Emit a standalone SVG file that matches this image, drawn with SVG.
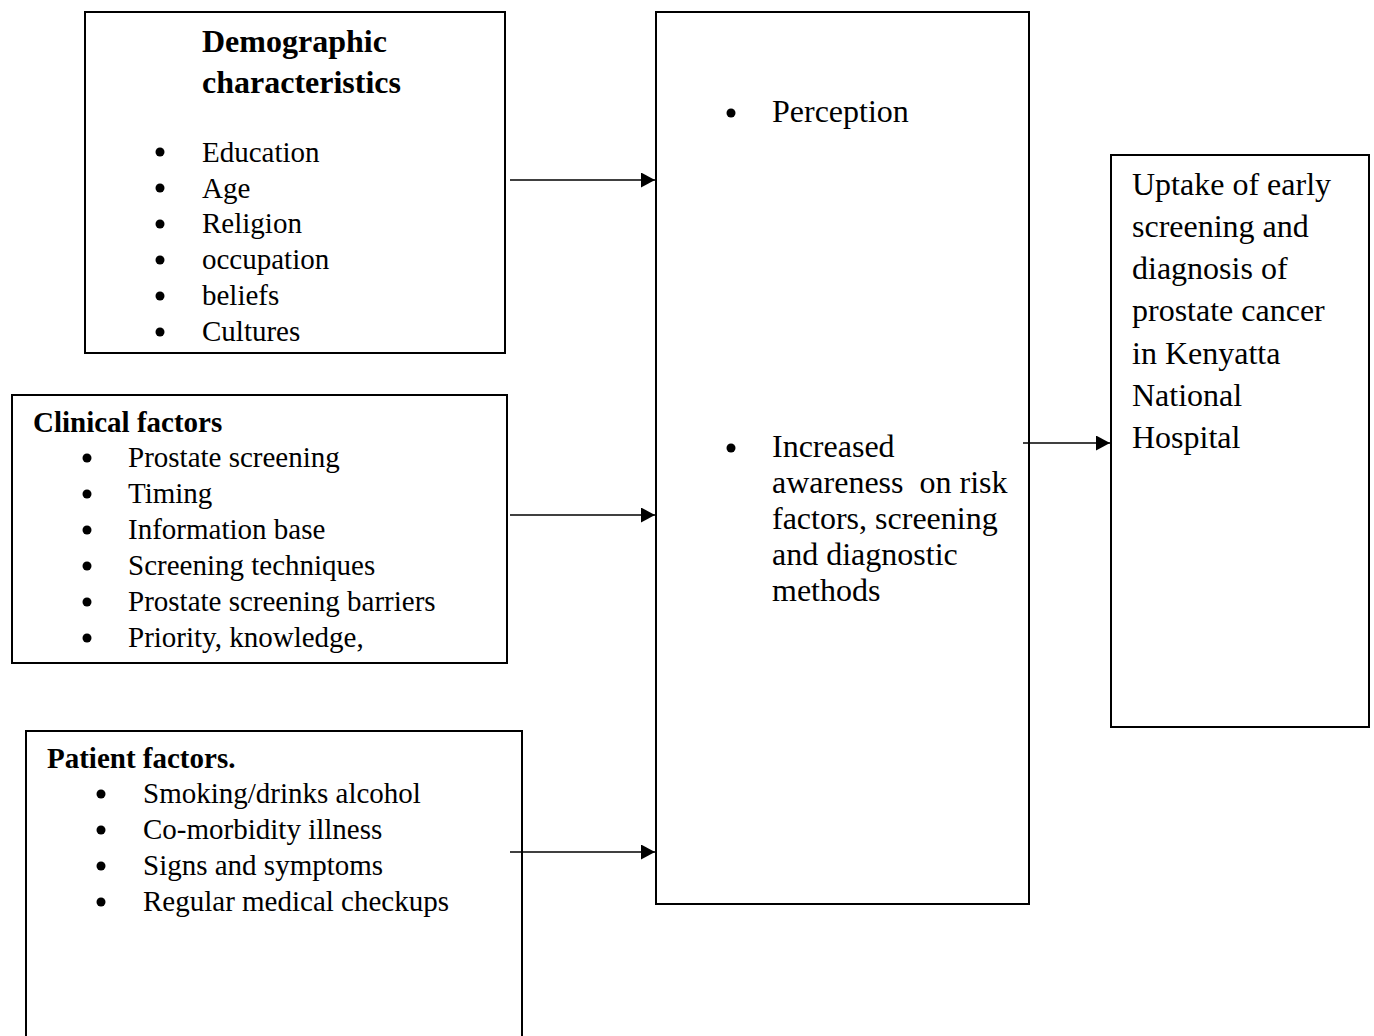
<svg xmlns="http://www.w3.org/2000/svg" width="1374" height="1036" viewBox="0 0 1374 1036">
<style>
.box{fill:#fff;stroke:#000;stroke-width:2}
.t{font-family:"Liberation Serif","Times New Roman",serif;fill:#000}
.s29{font-size:29px}
.s32{font-size:32px}
.b{font-weight:bold}
.conn{stroke:#000;stroke-width:1.6;fill:none}
</style>
<defs>
<marker id="ah" markerWidth="14" markerHeight="15" refX="14" refY="7.5" orient="auto" markerUnits="userSpaceOnUse">
<path d="M0,0 L14,7.5 L0,15 Z" fill="#000"/>
</marker>
</defs>
<rect width="1374" height="1036" fill="#fff"/>
<g id="demographic">
<rect class="box" x="85" y="12" width="420" height="341"/>
<text class="t s32 b" x="202" y="52">Demographic</text>
<text class="t s32 b" x="202" y="93">characteristics</text>
<g fill="#000"><circle cx="160" cy="152" r="4.5"/><circle cx="160" cy="188" r="4.5"/><circle cx="160" cy="224" r="4.5"/><circle cx="160" cy="260" r="4.5"/><circle cx="160" cy="296" r="4.5"/><circle cx="160" cy="332" r="4.5"/></g>
<text class="t s29" x="202" y="162">Education</text>
<text class="t s29" x="202" y="198">Age</text>
<text class="t s29" x="202" y="233">Religion</text>
<text class="t s29" x="202" y="269">occupation</text>
<text class="t s29" x="202" y="305">beliefs</text>
<text class="t s29" x="202" y="341">Cultures</text>
</g>
<g id="clinical">
<rect class="box" x="12" y="395" width="495" height="268"/>
<text class="t s29 b" x="33" y="432">Clinical factors</text>
<g fill="#000"><circle cx="87" cy="458" r="4.5"/><circle cx="87" cy="494" r="4.5"/><circle cx="87" cy="530" r="4.5"/><circle cx="87" cy="566" r="4.5"/><circle cx="87" cy="602" r="4.5"/><circle cx="87" cy="638" r="4.5"/></g>
<text class="t s29" x="128" y="467">Prostate screening</text>
<text class="t s29" x="128" y="503">Timing</text>
<text class="t s29" x="128" y="539">Information base</text>
<text class="t s29" x="128" y="575">Screening techniques</text>
<text class="t s29" x="128" y="611">Prostate screening barriers</text>
<text class="t s29" x="128" y="647">Priority, knowledge,</text>
</g>
<g id="patient">
<rect class="box" x="26" y="731" width="496" height="320"/>
<text class="t s29 b" x="47" y="768">Patient factors.</text>
<g fill="#000"><circle cx="101" cy="794" r="4.5"/><circle cx="101" cy="830" r="4.5"/><circle cx="101" cy="866" r="4.5"/><circle cx="101" cy="902" r="4.5"/></g>
<text class="t s29" x="143" y="803">Smoking/drinks alcohol</text>
<text class="t s29" x="143" y="839">Co-morbidity illness</text>
<text class="t s29" x="143" y="875">Signs and symptoms</text>
<text class="t s29" x="143" y="911">Regular medical checkups</text>
</g>
<g id="mediator">
<rect class="box" x="656" y="12" width="373" height="892"/>
<g fill="#000"><circle cx="731" cy="113" r="4.5"/><circle cx="731" cy="448" r="4.5"/></g>
<text class="t s32" x="772" y="122">Perception</text>
<text class="t s32" x="772" y="457">Increased</text>
<text class="t s32" x="772" y="493" xml:space="preserve">awareness  on risk</text>
<text class="t s32" x="772" y="529">factors, screening</text>
<text class="t s32" x="772" y="565">and diagnostic</text>
<text class="t s32" x="772" y="601">methods</text>
</g>
<g id="outcome">
<rect class="box" x="1111" y="155" width="258" height="572"/>
<text class="t s32" x="1132" y="195">Uptake of early</text>
<text class="t s32" x="1132" y="237">screening and</text>
<text class="t s32" x="1132" y="279">diagnosis of</text>
<text class="t s32" x="1132" y="321">prostate cancer</text>
<text class="t s32" x="1132" y="364">in Kenyatta</text>
<text class="t s32" x="1132" y="406">National</text>
<text class="t s32" x="1132" y="448">Hospital</text>
</g>
<g id="connectors">
<line class="conn" x1="510" y1="180" x2="655" y2="180" marker-end="url(#ah)"/>
<line class="conn" x1="510" y1="515" x2="655" y2="515" marker-end="url(#ah)"/>
<line class="conn" x1="510" y1="852" x2="655" y2="852" marker-end="url(#ah)"/>
<line class="conn" x1="1023" y1="443" x2="1110" y2="443" marker-end="url(#ah)"/>
</g>
</svg>
